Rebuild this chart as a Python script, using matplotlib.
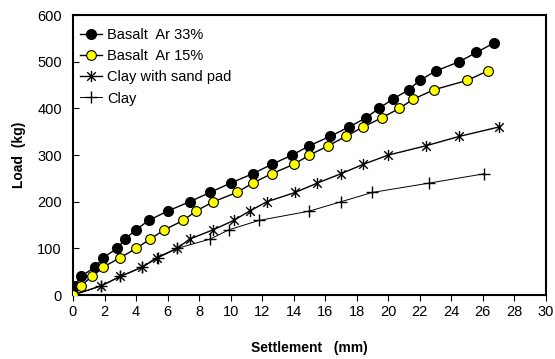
import matplotlib
matplotlib.use("Agg")
import matplotlib.pyplot as plt
from matplotlib.path import Path

plt.rcParams['font.family'] = ['Liberation Sans', 'DejaVu Sans']

# Data (settlement in mm, load in kg)
basalt33_s = [0, 0.1, 0.5, 1.4, 1.9, 2.8, 3.3, 4.0, 4.8, 6.0, 7.4, 8.7, 10.0, 11.4, 12.6, 13.9,
              15.0, 16.3, 17.5, 18.6, 19.4, 20.3, 21.3, 22.0, 23.0, 24.5, 25.6, 26.7]
basalt33_l = [0, 20, 40, 60, 80, 100, 120, 140, 160, 180, 200, 220, 240, 260, 280, 300,
              320, 340, 360, 380, 400, 420, 440, 460, 480, 500, 520, 540]

basalt15_s = [0, 0.5, 1.2, 1.9, 3.0, 4.0, 4.9, 5.8, 7.0, 7.8, 8.9, 10.4, 11.4, 12.6, 14.0,
              15.0, 16.2, 17.3, 18.4, 19.6, 20.7, 21.6, 22.9, 25.0, 26.3]
basalt15_l = [0, 20, 40, 60, 80, 100, 120, 140, 160, 180, 200, 220, 240, 260, 280,
              300, 320, 340, 360, 380, 400, 420, 440, 460, 480]

sandpad_s = [0, 1.8, 3.0, 4.4, 5.3, 6.6, 7.4, 8.9, 10.2, 11.2, 12.3, 14.1, 15.5, 17.0,
             18.4, 20.0, 22.4, 24.5, 27.0]
sandpad_l = [0, 20, 40, 60, 80, 100, 120, 140, 160, 180, 200, 220, 240, 260,
             280, 300, 320, 340, 360]

clay_s = [0, 1.8, 3.0, 4.4, 5.4, 6.6, 8.7, 9.9, 11.8, 15.0, 17.0, 19.0, 22.6, 26.1]
clay_l = [0, 20, 40, 60, 80, 100, 120, 140, 160, 180, 200, 220, 240, 260]

series_names = ["Basalt  Ar 33%", "Basalt  Ar 15%", "Clay with sand pad", "Clay"]
x_ticks = list(range(0, 31, 2))
y_ticks = list(range(0, 601, 100))

# Excel-like asterisk marker (x with vertical bar)
star = Path([(-1, -1), (1, 1), (-1, 1), (1, -1), (0, -1.3), (0, 1.3)],
            [Path.MOVETO, Path.LINETO, Path.MOVETO, Path.LINETO, Path.MOVETO, Path.LINETO])

fig = plt.figure(figsize=(5.55, 3.59), dpi=100)
ax = fig.add_axes([0.1315, 0.178, 0.852, 0.780])

ax.plot(basalt33_s, basalt33_l, color='black', lw=1.0, marker='o', ms=7,
        mfc='black', mec='black', label=series_names[0], zorder=4)
ax.plot(basalt15_s, basalt15_l, color='black', lw=1.0, marker='o', ms=7,
        mfc='#FFFF00', mec='black', mew=0.8, label=series_names[1], zorder=4)
ax.plot(sandpad_s, sandpad_l, color='black', lw=1.0, marker=star, ms=8,
        mfc='none', mec='black', mew=1.0, label=series_names[2], zorder=3)
ax.plot(clay_s, clay_l, color='black', lw=0.7, marker='+', ms=8,
        mec='black', mew=1.0, label=series_names[3], zorder=3)

ax.set_xlim(0, 30)
ax.set_ylim(0, 600)
ax.set_xticks(x_ticks)
ax.set_yticks(y_ticks)
ax.tick_params(axis='x', direction='out', length=4, width=0.8, labelsize=10.5, pad=3)
ax.tick_params(axis='y', direction='in', length=4, width=0.8, labelsize=10.5, pad=8)
for sp in ax.spines.values():
    sp.set_linewidth(1.5)

ax.set_xlabel("Settlement   (mm)", fontsize=10, fontweight='bold', labelpad=16)
ax.set_ylabel("Load  (kg)", fontsize=10, fontweight='bold', labelpad=8)

leg = ax.legend(loc='upper left', frameon=False, fontsize=10.5, handlelength=1.5,
                handletextpad=0.35, labelspacing=0.5, borderaxespad=0.0,
                borderpad=0.0, bbox_to_anchor=(0.015, 0.955))

fig.savefig("out.png", dpi=100)
